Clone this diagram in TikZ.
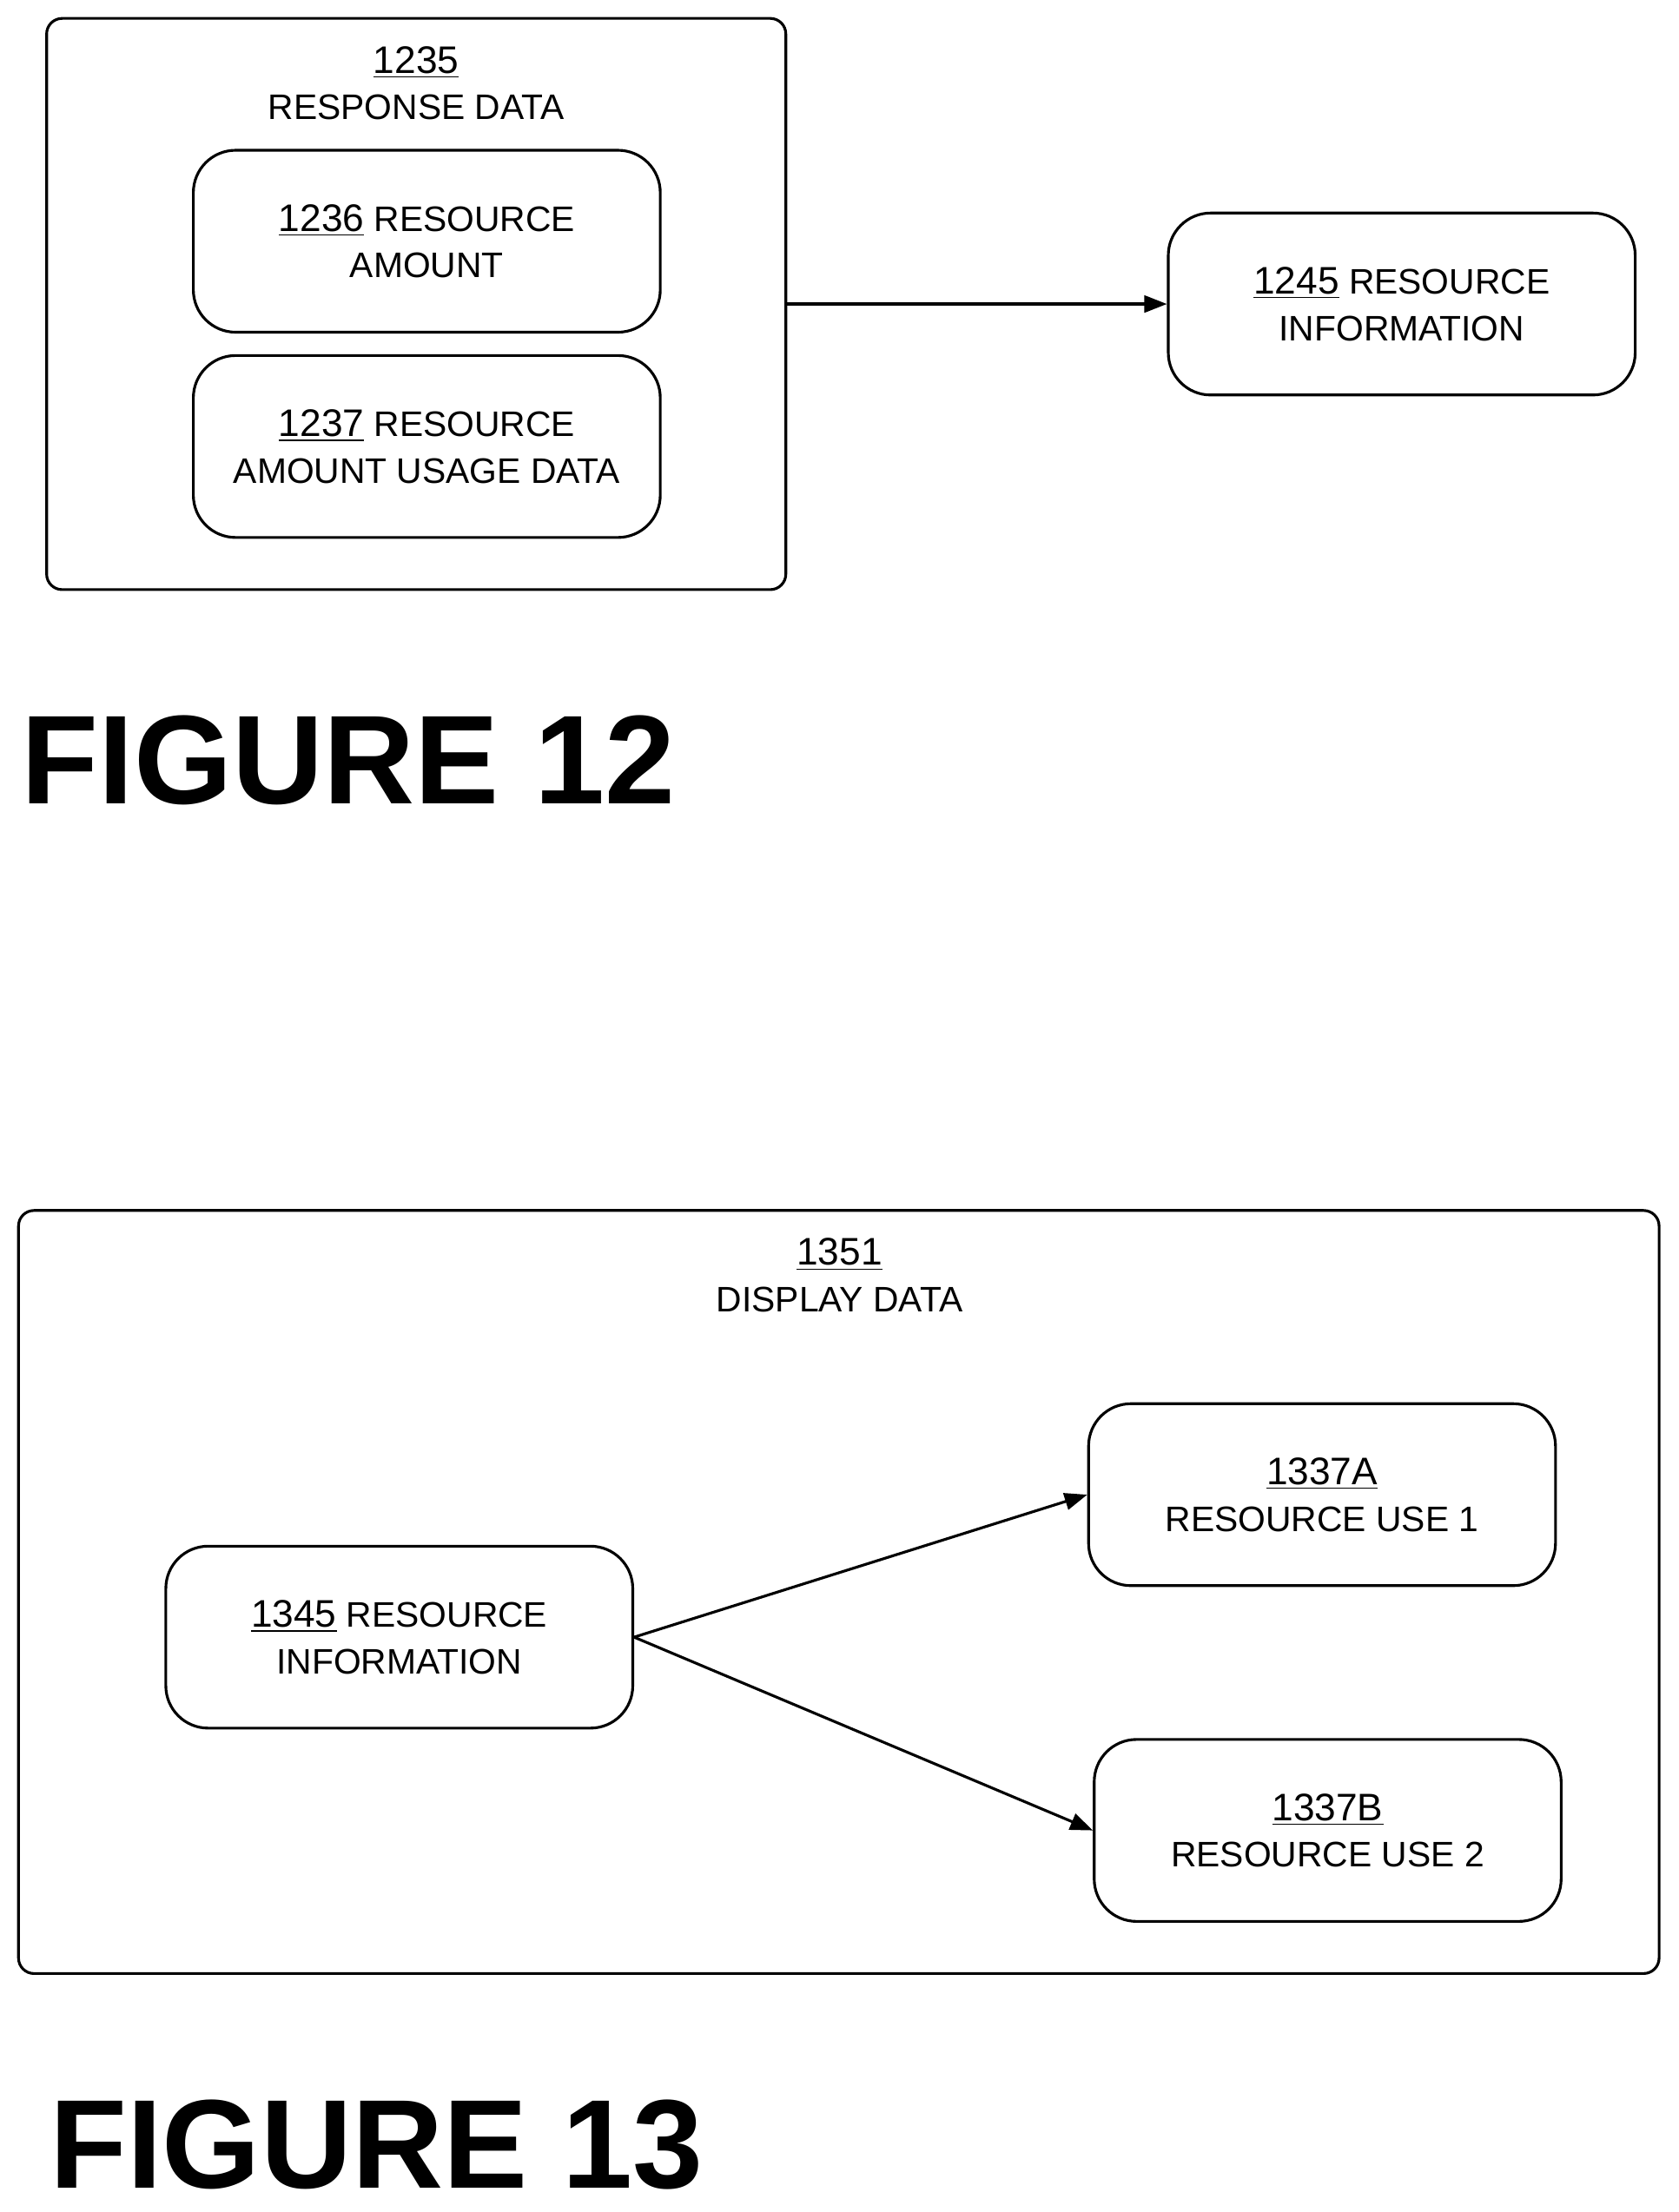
\documentclass[tikz,border=0pt]{standalone}
\usepackage{fontspec}
\setmainfont{Liberation Sans}
\usetikzlibrary{arrows.meta}

\tikzset{
  lbl/.style={font=\fontsize{14.3}{18.8}\selectfont, align=center},
  frame/.style={draw, line width=1.1pt, rounded corners=0.22cm, inner sep=0pt},
  blk/.style={draw, line width=1.1pt, rounded corners=0.6cm, minimum width=6.62cm,
    minimum height=2.58cm, inner sep=0pt, lbl},
  conn/.style={line width=1.1pt, -{Triangle[length=0.32cm, width=0.24cm]}},
  fig/.style={font=\fontsize{51}{58}\selectfont\bfseries, anchor=base west, inner sep=0pt}
}
\newcommand{\refno}[1]{\underline{\fontsize{15.5}{18.8}\selectfont #1}}

\begin{document}
\begin{tikzpicture}[x=0.02cm, y=-0.02cm]
\useasboundingbox (0,0) rectangle (1190,1568);

% figure 12
\node[frame, minimum width=10.48cm, minimum height=8.1cm] (resp) at (295,215.5) {};
\node[lbl] (resptitle) at (295,59) {\refno{1235}\\RESPONSE DATA};
\node[blk] (amount) at (302.5,171) {\refno{1236} RESOURCE\\AMOUNT};
\node[blk] (usage) at (302.5,316.5) {\refno{1237} RESOURCE\\AMOUNT USAGE DATA};
\node[blk] (info) at (993.5,215.5) {\refno{1245} RESOURCE\\INFORMATION};
\draw[conn] (resp.east |- info.west) -- (info.west);
\node[fig] (fig12) at (15,570) {FIGURE 12};

% figure 13
\node[frame, minimum width=23.26cm, minimum height=10.82cm] (disp) at (594.5,1128.5) {};
\node[lbl] (disptitle) at (595,904) {\refno{1351}\\DISPLAY DATA};
\node[blk] (resinfo) at (283,1160.5) {\refno{1345} RESOURCE\\INFORMATION};
\node[blk] (useA) at (937,1059.5) {\refno{1337A}\\RESOURCE USE 1};
\node[blk] (useB) at (941,1297.5) {\refno{1337B}\\RESOURCE USE 2};
\draw[conn] (resinfo.east) -- (useA.west);
\draw[conn] (resinfo.east) -- (useB.west);
\node[fig] (fig13) at (35,1551) {FIGURE 13};
\end{tikzpicture}
\end{document}
